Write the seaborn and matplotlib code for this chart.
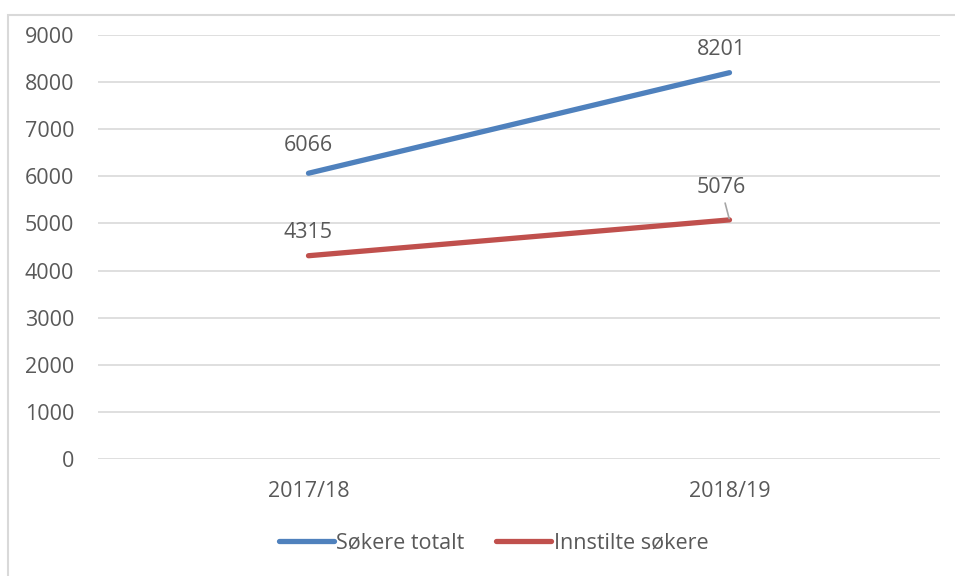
import matplotlib
matplotlib.use("Agg")
import matplotlib.pyplot as plt
import matplotlib.patches as mpatches
import seaborn as sns
import pandas as pd

# values
years = ["2017/18", "2018/19"]
sokere_totalt = [6066, 8201]
innstilte_sokere = [4315, 5076]
series_names = ["Søkere totalt", "Innstilte søkere"]
colors = ["#4F81BD", "#C0504D"]

df = pd.DataFrame({
    "year": years * 2,
    "x": [0, 1] * 2,
    "value": sokere_totalt + innstilte_sokere,
    "series": [series_names[0]] * 2 + [series_names[1]] * 2,
})

sns.set_theme(style="white")
plt.rcParams["font.family"] = ["Open Sans", "DejaVu Sans"]
text_col = "#595959"
fs = 15.5

fig = plt.figure(figsize=(9.55, 5.76), dpi=100)
ax = fig.add_axes([0.1026, 0.2031, 0.8817, 0.7361])

# light frame around the chart, as in the source document
fig.patches.append(mpatches.Rectangle((8 / 955, -0.1), 2, (1 - 15 / 576) + 0.1,
                                      transform=fig.transFigure, fill=False,
                                      edgecolor="#D9D9D9", linewidth=1.5))

sns.lineplot(data=df, x="x", y="value", hue="series", palette=colors,
             linewidth=3.8, ax=ax, legend=False, solid_capstyle="round")

ax.set_xlim(-0.5, 1.5)
ax.set_ylim(0, 9000)
ax.set_yticks(range(0, 9001, 1000))
ax.set_xticks([0, 1])
ax.set_xticklabels(years)
ax.grid(axis="y", color="#D9D9D9", linewidth=1.2)
ax.set_axisbelow(True)
for s in ax.spines.values():
    s.set_visible(False)
ax.tick_params(axis="both", length=0, labelsize=fs, labelcolor=text_col)
ax.tick_params(axis="y", pad=17)
ax.tick_params(axis="x", pad=16)
ax.set_xlabel("")
ax.set_ylabel("")

# data labels
lab = dict(fontsize=fs, color=text_col, ha="center", va="center")
ax.annotate(str(sokere_totalt[0]), (0, sokere_totalt[0]), xytext=(0, 20),
            textcoords="offset points", **lab)
ax.annotate(str(sokere_totalt[1]), (1, sokere_totalt[1]), xytext=(-6, 17),
            textcoords="offset points", **lab)
ax.annotate(str(innstilte_sokere[0]), (0, innstilte_sokere[0]), xytext=(0, 16.5),
            textcoords="offset points", **lab)
ax.annotate(str(innstilte_sokere[1]), (1, innstilte_sokere[1]), xytext=(-6, 23),
            textcoords="offset points",
            arrowprops=dict(arrowstyle="-", color="#A6A6A6", lw=1.2,
                            shrinkA=1, shrinkB=1), **lab)

handles = [plt.Line2D([], [], color=c, linewidth=3.8, solid_capstyle="round")
           for c in colors]
leg = fig.legend(handles, series_names, loc="center",
                 bbox_to_anchor=(0.5 + 16 / 955, 1 - 543 / 576),
                 ncol=2, frameon=False, fontsize=fs, handlelength=2.55,
                 handletextpad=0.1, columnspacing=1.5)
for t in leg.get_texts():
    t.set_color(text_col)

fig.savefig("out.png", dpi=100)
